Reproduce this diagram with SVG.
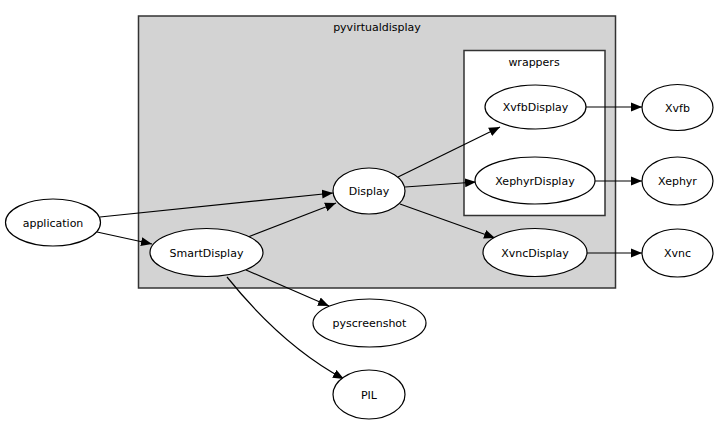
<svg xmlns="http://www.w3.org/2000/svg" width="720" height="424" viewBox="0 0 720 424">
<style>
text{font-family:"DejaVu Sans","Liberation Sans",sans-serif;font-size:11px;fill:#000;text-anchor:middle}
.n ellipse{fill:#fff;stroke:#000;stroke-width:1.2}
.e path,.e line{stroke:#000;stroke-width:1.2;fill:none}
</style>
<defs>
<marker id="a" markerUnits="userSpaceOnUse" markerWidth="12" markerHeight="10" refX="11" refY="4.5" orient="auto" viewBox="0 0 12 9">
<path d="M0,0 L11,4.5 L0,9 Z" fill="#000"/>
</marker>
</defs>
<rect width="720" height="424" fill="#fff"/>
<g id="cluster_pyvirtualdisplay">
<rect x="138.5" y="16" width="477" height="272" fill="#d3d3d3" stroke="#333" stroke-width="1.5"/>
<text x="377" y="31">pyvirtualdisplay</text>
</g>
<g id="cluster_wrappers">
<rect x="464" y="50.5" width="141" height="165" fill="#fff" stroke="#333" stroke-width="1.5"/>
<text x="534" y="66">wrappers</text>
</g>
<g class="e" id="edges">
<line x1="100" y1="217" x2="333" y2="193" marker-end="url(#a)"/>
<line x1="97" y1="232" x2="152" y2="244" marker-end="url(#a)"/>
<line x1="248" y1="237" x2="336" y2="203" marker-end="url(#a)"/>
<line x1="398" y1="177" x2="500" y2="127" marker-end="url(#a)"/>
<line x1="405" y1="187" x2="476" y2="182" marker-end="url(#a)"/>
<line x1="400" y1="204" x2="495" y2="238" marker-end="url(#a)"/>
<line x1="586" y1="107" x2="642" y2="107" marker-end="url(#a)"/>
<line x1="595" y1="181" x2="642" y2="181" marker-end="url(#a)"/>
<line x1="587" y1="253" x2="642" y2="253" marker-end="url(#a)"/>
<line x1="246" y1="270" x2="329" y2="306" marker-end="url(#a)"/>
<path d="M227,277 C252,308 290,350 344,379" marker-end="url(#a)"/>
</g>
<g class="n" id="application"><ellipse cx="53" cy="222.5" rx="47.5" ry="23.5"/><text x="53" y="226.5">application</text></g>
<g class="n" id="SmartDisplay"><ellipse cx="206.5" cy="252.5" rx="56.5" ry="24"/><text x="206.5" y="256.5">SmartDisplay</text></g>
<g class="n" id="Display"><ellipse cx="369" cy="191" rx="36" ry="23"/><text x="369" y="195">Display</text></g>
<g class="n" id="XvfbDisplay"><ellipse cx="535.5" cy="107" rx="50.5" ry="22"/><text x="535.5" y="111">XvfbDisplay</text></g>
<g class="n" id="XephyrDisplay"><ellipse cx="535" cy="180.5" rx="60" ry="23.5"/><text x="535" y="184.5">XephyrDisplay</text></g>
<g class="n" id="XvncDisplay"><ellipse cx="535" cy="252.5" rx="52" ry="24"/><text x="535" y="256.5">XvncDisplay</text></g>
<g class="n" id="Xvfb"><ellipse cx="677.5" cy="107.5" rx="35.5" ry="23"/><text x="677.5" y="111.5">Xvfb</text></g>
<g class="n" id="Xephyr"><ellipse cx="677.5" cy="181" rx="35.5" ry="24"/><text x="677.5" y="185">Xephyr</text></g>
<g class="n" id="Xvnc"><ellipse cx="677.5" cy="253" rx="35.5" ry="24"/><text x="677.5" y="257">Xvnc</text></g>
<g class="n" id="pyscreenshot"><ellipse cx="369.5" cy="323" rx="56.5" ry="24"/><text x="369.5" y="327">pyscreenshot</text></g>
<g class="n" id="PIL"><ellipse cx="369" cy="394.5" rx="36" ry="24.5"/><text x="369" y="398.5">PIL</text></g>
</svg>
